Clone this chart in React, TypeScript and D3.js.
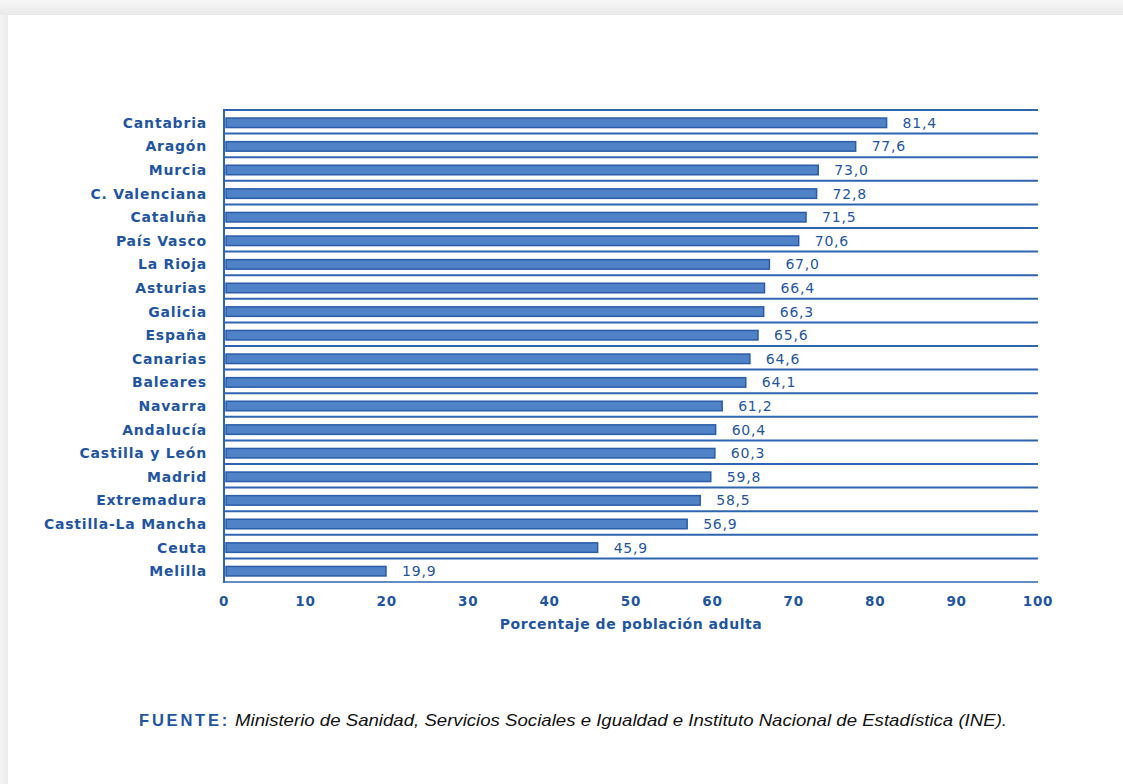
import React from "react";
import * as d3 from "d3";

const categories = [
  "Cantabria", "Aragón", "Murcia", "C. Valenciana", "Cataluña", "País Vasco",
  "La Rioja", "Asturias", "Galicia", "España", "Canarias", "Baleares", "Navarra",
  "Andalucía", "Castilla y León", "Madrid", "Extremadura", "Castilla-La Mancha",
  "Ceuta", "Melilla",
];
const values = [
  81.4, 77.6, 73.0, 72.8, 71.5, 70.6, 67.0, 66.4, 66.3, 65.6, 64.6, 64.1, 61.2,
  60.4, 60.3, 59.8, 58.5, 56.9, 45.9, 19.9,
];
const xTicks = [0, 10, 20, 30, 40, 50, 60, 70, 80, 90, 100];
const axisTitle = "Porcentaje de población adulta";
const sourceLabel = "FUENTE:";
const sourceText =
  "Ministerio de Sanidad, Servicios Sociales e Igualdad e Instituto Nacional de Estadística (INE).";

const W = 1123;
const H = 784;
const left = 224;
const right = 1038;
const top = 110;
const bottom = 582;
const blue = "#1f55a3";
const lineBlue = "#2f65b0";
const barFill = "#4f82c6";
const barStroke = "#2a5ca8";
const font = "'DejaVu Sans', Verdana, sans-serif";
const font2 = "'Liberation Sans', Arial, sans-serif";

export default function App() {
  const x = d3.scaleLinear().domain([0, 100]).range([left, right]);
  const y = d3.scaleBand<string>().domain(categories).range([top, bottom]);
  const fmt = (v: number) => v.toFixed(1).replace(".", ",");
  const bh = 9.5;
  return (
    <svg
      width={W}
      height={H}
      style={{ position: "absolute", left: 0, top: 0, background: "#fff" }}
    >
      <defs>
        <linearGradient id="topband" x1="0" y1="0" x2="0" y2="1">
          <stop offset="0" stopColor="#f7f7f7" />
          <stop offset="1" stopColor="#e9e9e9" />
        </linearGradient>
        <linearGradient id="leftband" x1="0" y1="0" x2="1" y2="0">
          <stop offset="0" stopColor="#f4f4f4" />
          <stop offset="1" stopColor="#ececec" />
        </linearGradient>
      </defs>
      <rect x={0} y={0} width={W} height={15} fill="url(#topband)" />
      <rect x={0} y={15} width={8} height={H - 15} fill="url(#leftband)" />

      {categories.map((c) => (
        <line
          key={"l" + c}
          x1={left}
          x2={right}
          y1={y(c) as number}
          y2={y(c) as number}
          stroke={lineBlue}
          strokeWidth={2}
        />
      ))}
      <line x1={left} x2={right} y1={bottom} y2={bottom} stroke={lineBlue} strokeWidth={1.6} />
      <line x1={left} x2={left} y1={top - 1} y2={bottom + 1} stroke={lineBlue} strokeWidth={2} />

      {categories.map((c, i) => {
        const cy = (y(c) as number) + y.bandwidth() / 2 + 1;
        return (
          <g key={"b" + c}>
            <rect
              x={left + 2}
              y={cy - bh / 2}
              width={x(values[i]) - left - 2}
              height={bh}
              fill={barFill}
              stroke={barStroke}
              strokeWidth={1.5}
            />
            <text
              x={x(values[i]) + 16}
              y={cy + 5}
              fontFamily={font}
              fontSize={14}
              fill={blue}
              letterSpacing={0.8}
            >
              {fmt(values[i])}
            </text>
            <text
              x={207}
              y={cy + 5}
              textAnchor="end"
              fontFamily={font}
              fontWeight="bold"
              fontSize={14}
              fill={blue}
              letterSpacing={0.8}
            >
              {c}
            </text>
          </g>
        );
      })}

      {xTicks.map((t) => (
        <text
          key={"t" + t}
          x={x(t)}
          y={606}
          textAnchor="middle"
          fontFamily={font}
          fontWeight="bold"
          fontSize={13.5}
          fill={blue}
          letterSpacing={0.8}
        >
          {t}
        </text>
      ))}
      <text
        x={631}
        y={629}
        textAnchor="middle"
        fontFamily={font}
        fontWeight="bold"
        fontSize={14}
        fill={blue}
        letterSpacing={0.55}
      >
        {axisTitle}
      </text>

      <text
        x={139}
        y={726}
        fontFamily={font2}
        fontSize={16.5}
        fontWeight="bold"
        fill={blue}
        letterSpacing={2.8}
      >
        {sourceLabel}
      </text>
      <text
        x={235}
        y={726}
        fontFamily={font2}
        fontSize={16.5}
        fontStyle="italic"
        fill="#111"
        textLength={772}
        lengthAdjust="spacingAndGlyphs"
      >
        {sourceText}
      </text>
    </svg>
  );
}
